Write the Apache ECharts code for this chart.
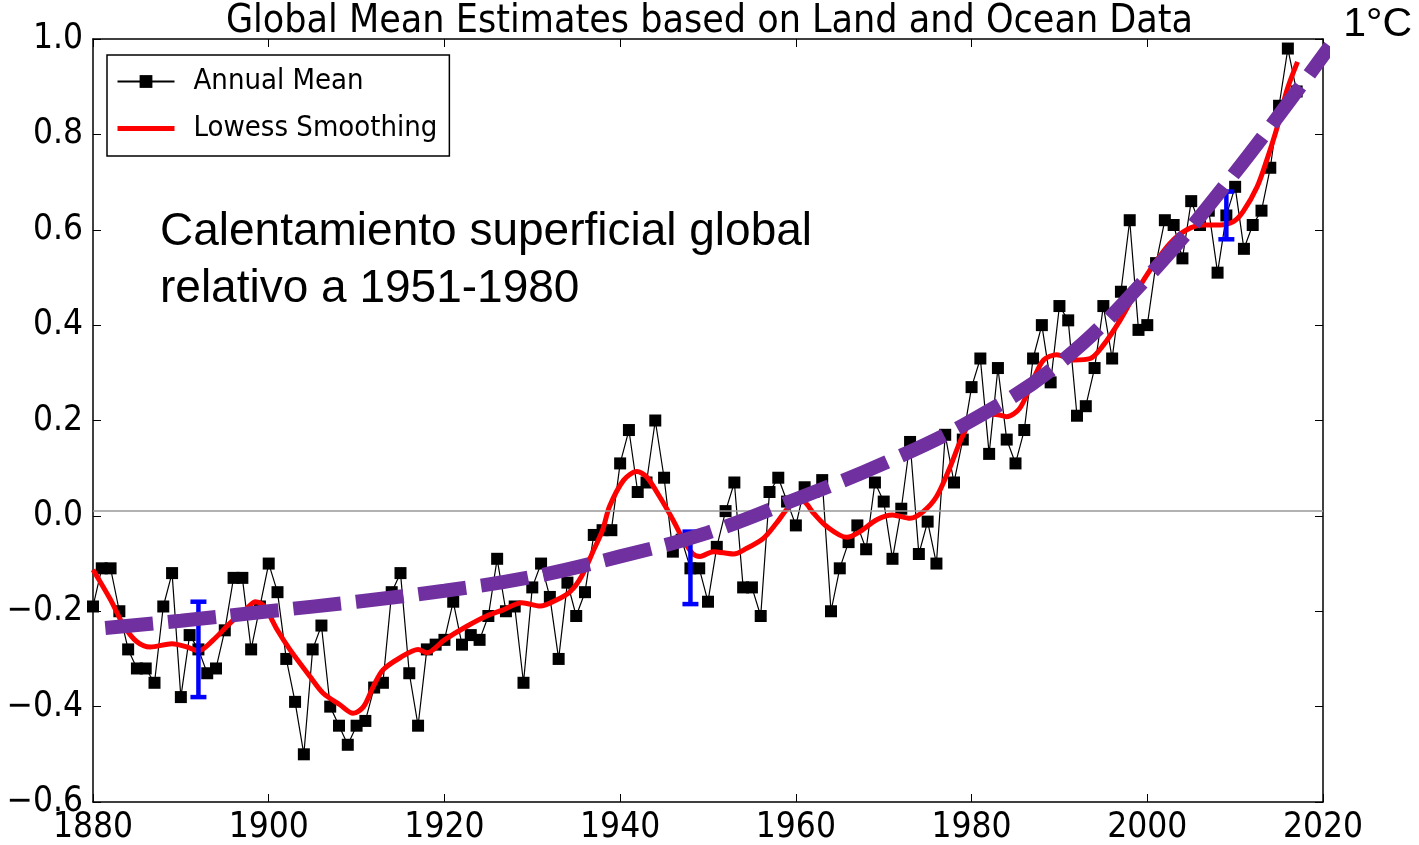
<!DOCTYPE html>
<html>
<head>
<meta charset="utf-8">
<script src="https://cdn.jsdelivr.net/npm/echarts@6/dist/echarts.min.js"></script>
<style>
html, body { margin: 0; padding: 0; background: #fff; }
#chart { width: 1419px; height: 845px; }
</style>
</head>
<body>
<div id="chart"></div>
<script>
// datos (anomalia en grados C)
const firstYear = 1880
const annualMean = [
    -0.19, -0.11, -0.11, -0.20, -0.28, -0.32, -0.32, -0.35, -0.19, -0.12,
    -0.38, -0.25, -0.28, -0.33, -0.32, -0.24, -0.13, -0.13, -0.28, -0.19,
    -0.10, -0.16, -0.30, -0.39, -0.50, -0.28, -0.23, -0.40, -0.44, -0.48,
    -0.44, -0.43, -0.36, -0.35, -0.16, -0.12, -0.33, -0.44, -0.28, -0.27,
    -0.26, -0.18, -0.27, -0.25, -0.26, -0.21, -0.09, -0.20, -0.19, -0.35,
    -0.15, -0.10, -0.17, -0.30, -0.14, -0.21, -0.16, -0.04, -0.03, -0.03,
    0.11, 0.18, 0.05, 0.07, 0.20, 0.08, -0.075, -0.05, -0.11, -0.11,
    -0.18, -0.065, 0.01, 0.07, -0.15, -0.15, -0.21, 0.05, 0.08, 0.03,
    -0.02, 0.06, 0.05, 0.075, -0.20, -0.11, -0.055, -0.02, -0.07, 0.07,
    0.03, -0.09, 0.015, 0.155, -0.08, -0.012, -0.10, 0.17, 0.07, 0.16,
    0.27, 0.33, 0.13, 0.31, 0.16, 0.11, 0.18, 0.33, 0.40, 0.28,
    0.44, 0.41, 0.21, 0.23, 0.31, 0.44, 0.33, 0.47, 0.62, 0.39,
    0.40, 0.53, 0.62, 0.61, 0.54, 0.66, 0.61, 0.64, 0.51, 0.63,
    0.69, 0.56, 0.61, 0.64, 0.73, 0.86, 0.98, 0.89
]
const lowessYears = [
    1880, 1882, 1883.5, 1885, 1886.5, 1889, 1890.7, 1892, 1893.7, 1895.6,
    1897.5, 1898.5, 1899.5, 1901, 1902.4, 1904.7, 1906.2, 1908.1, 1909.6, 1910.8,
    1911.9, 1913, 1915, 1917, 1918, 1920, 1922.5, 1924.8, 1926.7, 1928.8,
    1930.9, 1932.8, 1934.3, 1935.6, 1937, 1938, 1938.8, 1940.4, 1941.9, 1943,
    1944.5, 1946, 1947.2, 1948.3, 1949.1, 1950.6, 1952.9, 1954.4, 1956.3, 1957.8,
    1959.3, 1960.8, 1962, 1963.5, 1965.8, 1967.3, 1969.2, 1971, 1973, 1974.5,
    1976, 1977.5, 1978.8, 1980, 1981.5, 1983, 1984, 1985.5, 1987, 1988.2,
    1989.7, 1991.6, 1993.5, 1995, 1996.9, 1998.6, 2000.7, 2002.6, 2004.5, 2006.4,
    2008.3, 2009.8, 2010.9, 2012.5, 2013.6, 2014.8, 2015.9, 2017.1
]
const lowessValues = [
    -0.113, -0.176, -0.23, -0.264, -0.275, -0.268, -0.275, -0.283, -0.26, -0.225,
    -0.194, -0.18, -0.19, -0.24, -0.28, -0.337, -0.372, -0.396, -0.414, -0.40,
    -0.358, -0.323, -0.297, -0.28, -0.287, -0.26, -0.232, -0.21, -0.197, -0.182,
    -0.189, -0.176, -0.159, -0.127, -0.071, -0.03, 0.02, 0.075, 0.093, 0.082,
    0.04, -0.008, -0.05, -0.08, -0.085, -0.075, -0.08, -0.068, -0.047, -0.015,
    0.02, 0.03, 0.006, -0.022, -0.045, -0.033, -0.008, 0.002, -0.005, 0.009,
    0.04, 0.10, 0.16, 0.20, 0.213, 0.212, 0.208, 0.226, 0.285, 0.327,
    0.338, 0.327, 0.33, 0.358, 0.41, 0.465, 0.526, 0.572, 0.60, 0.61,
    0.61, 0.617, 0.638, 0.69, 0.746, 0.816, 0.893, 0.952
]
const trendYears = [1881.4, 1890, 1900, 1910, 1920, 1930, 1940, 1950, 1960, 1970, 1980, 1990, 2000, 2010, 2020.8]
const trendValues = [-0.235, -0.22, -0.20, -0.18, -0.157, -0.128, -0.085, -0.035, 0.035, 0.11, 0.20, 0.32, 0.50, 0.72, 0.985]
const errYears = [1892, 1948, 2009]
const errLow = [-0.38, -0.185, 0.58]
const errHigh = [-0.18, -0.033, 0.68]
const zeroLine = 0.014
const xTicks = { min: 1880, max: 2020, step: 20 }
const yTicks = { min: -0.6, max: 1.0, step: 0.2 }

const font = "'DejaVu Sans Condensed', 'DejaVu Sans', sans-serif"
const chart = echarts.init(document.getElementById('chart'), null, { renderer: 'canvas' })

const annualData = annualMean.map((v, i) => [firstYear + i, v])
const lowessData = lowessYears.map((y, i) => [y, lowessValues[i]])
const trendData = trendYears.map((y, i) => [y, trendValues[i]])
const errData = errYears.map((y, i) => [y, errLow[i], errHigh[i]])

const axisBase = {
    type: 'value',
    axisLine: { show: true, onZero: false, lineStyle: { color: '#000', width: 1.5 } },
    axisTick: { show: true, inside: true, length: 8, lineStyle: { color: '#000', width: 1 } },
    splitLine: { show: false }
}

const option = {
    animation: false,
    backgroundColor: '#fff',
    grid: { left: 93, right: 96, top: 39, bottom: 43 },
    graphic: [
        { type: 'text', left: 'center', top: 2, style: { text: 'Global Mean Estimates based on Land and Ocean Data', font: '39px ' + font, fill: '#000' } },
        { type: 'text', left: 160, top: 204, style: { text: 'Calentamiento superficial global\nrelativo a 1951-1980', font: '46px Liberation Sans, Arial, sans-serif', lineHeight: 57, fill: '#000' } },
        { type: 'text', right: 7, top: 4, style: { text: '1°C', font: '41px Liberation Sans, Arial, sans-serif', fill: '#000' } }
    ],
    legend: {
        orient: 'vertical',
        left: 107, top: 55,
        padding: [12, 12, 13, 8],
        itemGap: 18,
        itemWidth: 57, itemHeight: 16,
        borderColor: '#000', borderWidth: 1.5,
        backgroundColor: '#fff',
        textStyle: { fontFamily: font, fontSize: 29, color: '#000', padding: [0, 0, 0, 14] },
        data: [
            { name: 'Annual Mean' },
            { name: 'Lowess Smoothing', itemStyle: { opacity: 0 }, lineStyle: { width: 5 } }
        ]
    },
    xAxis: [
        Object.assign({}, axisBase, {
            position: 'bottom', min: xTicks.min, max: xTicks.max, interval: xTicks.step,
            axisLabel: { color: '#000', fontFamily: font, fontSize: 35, margin: 8, formatter: v => String(v) }
        }),
        Object.assign({}, axisBase, {
            position: 'top', min: xTicks.min, max: xTicks.max, interval: xTicks.step,
            axisLabel: { show: false }
        })
    ],
    yAxis: [
        Object.assign({}, axisBase, {
            position: 'left', min: yTicks.min, max: yTicks.max, interval: yTicks.step,
            axisLabel: {
                color: '#000', fontFamily: font, fontSize: 35, margin: 10,
                formatter: v => v.toFixed(1).replace('-', '\u2212')
            }
        }),
        Object.assign({}, axisBase, {
            position: 'right', min: yTicks.min, max: yTicks.max, interval: yTicks.step,
            axisLabel: { show: false }
        })
    ],
    series: [
        {
            name: 'Annual Mean',
            type: 'line',
            data: annualData,
            symbol: 'rect',
            symbolSize: 12,
            color: '#000',
            itemStyle: { color: '#000' },
            lineStyle: { color: '#000', width: 1.2 },
            z: 2,
            markLine: {
                silent: true,
                symbol: 'none',
                label: { show: false },
                lineStyle: { color: '#999', width: 1.5, type: 'solid' },
                data: [{ yAxis: zeroLine }]
            }
        },
        {
            name: 'Lowess Smoothing',
            type: 'line',
            data: lowessData,
            smooth: 0.3,
            showSymbol: false,
            symbol: 'none',
            color: '#ff0000',
            lineStyle: { color: '#ff0000', width: 5 },
            z: 3
        },
        {
            name: 'err',
            type: 'custom',
            data: errData,
            z: 4,
            renderItem: function (params, api) {
                const lo = api.coord([api.value(0), api.value(1)])
                const hi = api.coord([api.value(0), api.value(2)])
                const w = 8
                const st = { stroke: '#0000ff', lineWidth: 4.5 }
                return {
                    type: 'group',
                    children: [
                        { type: 'line', shape: { x1: lo[0], y1: lo[1], x2: hi[0], y2: hi[1] }, style: st },
                        { type: 'line', shape: { x1: lo[0] - w, y1: lo[1], x2: lo[0] + w, y2: lo[1] }, style: st },
                        { type: 'line', shape: { x1: hi[0] - w, y1: hi[1], x2: hi[0] + w, y2: hi[1] }, style: st }
                    ]
                }
            }
        },
        {
            name: 'trend',
            type: 'line',
            data: trendData,
            smooth: 0.4,
            showSymbol: false,
            symbol: 'none',
            clip: false,
            color: '#7030a0',
            lineStyle: { color: '#7030a0', width: 14, type: [48, 15], cap: 'butt' },
            z: 5
        }
    ]
}
chart.setOption(option)
</script>
</body>
</html>
